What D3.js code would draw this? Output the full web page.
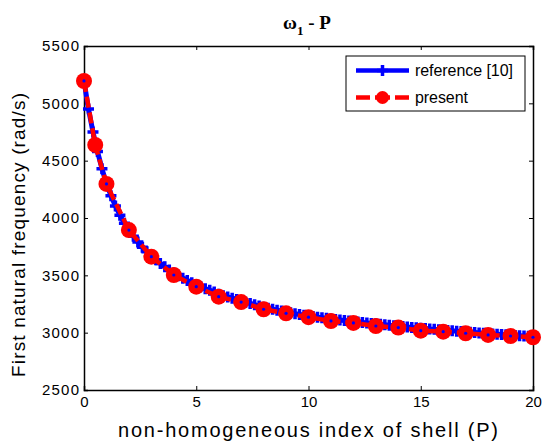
<!DOCTYPE html>
<html><head><meta charset="utf-8">
<script src="https://cdn.jsdelivr.net/npm/d3@7"></script>
<style>body{margin:0;background:#fff}svg{display:block}</style>
</head><body>
<svg id="c" width="543" height="447"></svg>
<script>
const presentP = [0,0.5,1,2,3,4,5,6,7,8,9,10,11,12,13,14,15,16,17,18,19,20];
const presentW = [5195,4637,4297,3895,3663,3503,3401,3314,3267,3204,3169,3135,3102,3085,3058,3044,3017,3009,2995,2980,2971,2960];
const refP = [0,0.2,0.4,0.6,0.8,1,1.2,1.4,1.6,1.8,2,2.2,2.4,2.6,2.8,3,3.2,3.4,3.6,3.8,4,4.2,4.4,4.6,4.8,5,5.2,5.4,5.6,5.8,6,6.2,6.4,6.6,6.8,7,7.2,7.4,7.6,7.8,8,8.2,8.4,8.6,8.8,9,9.2,9.4,9.6,9.8,10,10.2,10.4,10.6,10.8,11,11.2,11.4,11.6,11.8,12,12.2,12.4,12.6,12.8,13,13.2,13.4,13.6,13.8,14,14.2,14.4,14.6,14.8,15,15.2,15.4,15.6,15.8,16,16.2,16.4,16.6,16.8,17,17.2,17.4,17.6,17.8,18,18.2,18.4,18.6,18.8,19,19.2,19.4,19.6,19.8,20];
const refW = [5195,4950,4750,4580,4430,4300,4195,4105,4025,3955,3895,3840,3790,3745,3705,3670,3636,3604,3574,3546,3520,3497,3475,3455,3436,3418,3401,3384,3369,3354,3335,3323,3311,3300,3289,3278,3266,3255,3244,3233,3222,3213,3204,3196,3188,3180,3173,3166,3159,3152,3145,3140,3135,3130,3125,3120,3115,3111,3106,3102,3097,3093,3089,3085,3081,3077,3073,3069,3065,3061,3057,3053,3050,3046,3043,3039,3036,3032,3029,3025,3022,3019,3016,3013,3010,3007,3004,3001,2998,2995,2992,2989,2987,2984,2982,2979,2976,2974,2971,2968,2965];
const xTicks = [0,5,10,15,20];
const yTicks = [2500,3000,3500,4000,4500,5000,5500];
const legendLabels = ["reference [10]","present"];

const svg = d3.select("#c");
const L=84,R=533,T=46,B=390;
const x = d3.scaleLinear().domain([0,20]).range([L,R]);
const y = d3.scaleLinear().domain([2500,5500]).range([B,T]);
const font = "'Liberation Sans', Arial, sans-serif";

const gx = svg.append("g").attr("transform",`translate(0,${B})`)
  .call(d3.axisBottom(x).tickValues(xTicks).tickSize(-4).tickPadding(6).tickFormat(d3.format("d")));
const gxt = svg.append("g").attr("transform",`translate(0,${T})`)
  .call(d3.axisTop(x).tickValues(xTicks).tickSize(-4).tickFormat(""));
const gy = svg.append("g").attr("transform",`translate(${L},0)`)
  .call(d3.axisLeft(y).tickValues(yTicks).tickSize(-4).tickPadding(5).tickFormat(d3.format("d")));
const gyr = svg.append("g").attr("transform",`translate(${R},0)`)
  .call(d3.axisRight(y).tickValues(yTicks).tickSize(-4).tickFormat(""));
[gx,gxt,gy,gyr].forEach(g=>{
  g.select(".domain").attr("stroke","#000").attr("stroke-width",1.5);
  g.selectAll(".tick line").attr("stroke","#000");
  g.selectAll("text").attr("font-family",font).attr("font-size",15).attr("fill","#000");
});
gy.selectAll("text").attr("textLength",37).attr("lengthAdjust","spacing");

const line = d3.line().x(d=>x(d[0])).y(d=>y(d[1]));
const refData = refP.map((p,i)=>[p,refW[i]]);
const preData = presentP.map((p,i)=>[p,presentW[i]]);
svg.append("path").datum(refData).attr("d",line).attr("fill","none")
  .attr("stroke","#0000ff").attr("stroke-width",5);
const plus = (g,cx,cy,s,w)=>g.append("path")
  .attr("d",`M${cx-s},${cy}H${cx+s}M${cx},${cy-s}V${cy+s}`)
  .attr("stroke","#0000ff").attr("stroke-width",w);
const rg = svg.append("g");
refData.forEach(d=>plus(rg,x(d[0]),y(d[1]),5.5,3.5));

svg.append("path").datum(preData).attr("d",line).attr("fill","none")
  .attr("stroke","#ff0000").attr("stroke-width",4.5).attr("stroke-dasharray","11,5");
svg.append("g").selectAll("circle").data(preData).join("circle")
  .attr("cx",d=>x(d[0])).attr("cy",d=>y(d[1])).attr("r",8).attr("fill","#ff0000");
svg.append("g").selectAll("circle").data(preData.filter(d=>refP.includes(d[0]))).join("circle")
  .attr("cx",d=>x(d[0])).attr("cy",d=>y(d[1])).attr("r",1.6).attr("fill","#0000ff");

const lg = svg.append("g");
lg.append("rect").attr("x",346).attr("y",56).attr("width",179).attr("height",55)
  .attr("fill","#fff").attr("stroke","#000").attr("stroke-width",1);
lg.append("line").attr("x1",356).attr("x2",409).attr("y1",70.5).attr("y2",70.5)
  .attr("stroke","#0000ff").attr("stroke-width",4.5);
plus(lg,382.5,70.5,5.5,3.5);
lg.append("line").attr("x1",356).attr("x2",409).attr("y1",97.5).attr("y2",97.5)
  .attr("stroke","#ff0000").attr("stroke-width",4.5).attr("stroke-dasharray","14,5,15,5,14");
lg.append("circle").attr("cx",382.5).attr("cy",97.5).attr("r",6.5).attr("fill","#ff0000");
lg.selectAll("text.l").data(legendLabels).join("text")
  .attr("x",415).attr("y",(d,i)=>70.5+i*27).attr("dy","0.35em")
  .attr("font-family",font).attr("font-size",16)
  .attr("textLength",(d,i)=>i===0?98:53).attr("lengthAdjust","spacing").text(d=>d);

const t = svg.append("text").attr("x",307).attr("y",29).attr("text-anchor","middle")
  .attr("font-family","'Liberation Serif','Times New Roman',serif").attr("font-weight","bold").attr("font-size",19);
t.append("tspan").text("ω");
t.append("tspan").attr("font-size",13).attr("dy",6).text("1");
t.append("tspan").attr("dy",-6).text(" - P");

svg.append("text").attr("x",308).attr("y",437).attr("text-anchor","middle")
  .attr("font-family",font).attr("font-size",20).attr("textLength",380).attr("lengthAdjust","spacing")
  .text("non-homogeneous index of shell (P)");
svg.append("text").attr("transform",`translate(25,${(T+B)/2+17}) rotate(-90)`).attr("text-anchor","middle")
  .attr("font-family",font).attr("font-size",19).attr("textLength",284).attr("lengthAdjust","spacing")
  .text("First natural frequency (rad/s)");
</script>
</body></html>
